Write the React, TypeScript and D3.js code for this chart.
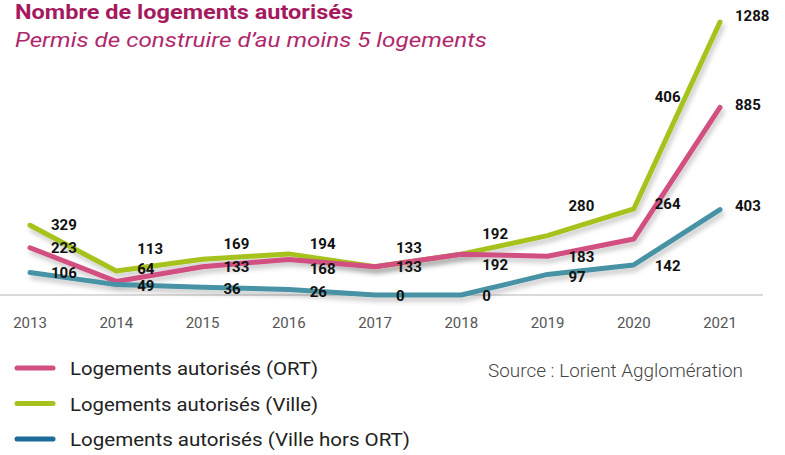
import * as d3 from "d3";
import { useEffect, useRef } from "react";

const years = ["2013", "2014", "2015", "2016", "2017", "2018", "2019", "2020", "2021"];
const ort = [223, 64, 133, 168, 133, 192, 183, 264, 885];
const ville = [329, 113, 169, 194, 133, 192, 280, 406, 1288];
const horsOrt = [106, 49, 36, 26, 0, 0, 97, 142, 403];

// label nudges in px, relative to each point
const villeDy = [-1, -22, -16, -10, -19, -21, -30, -112, -6];
const ortDy = [0, -13, 0, 9, 0, 10, 0, -35, -3];
const horsDy = [0, 1, 1, 2, 1, 1, 2, 1, -4];

const legendNames = [
  "Logements autorisés (ORT)",
  "Logements autorisés (Ville)",
  "Logements autorisés (Ville hors ORT)",
];
const legendWidths = [248, 248, 340];

const FONT = "Roboto, 'DejaVu Sans', sans-serif";

export default function App() {
  const svgRef = useRef<SVGSVGElement>(null);

  useEffect(() => {
    const w = 785;
    const h = 455;
    const svg = d3.select(svgRef.current).attr("width", w).attr("height", h);
    svg.selectAll("*").remove();

    const series = [
      { name: legendNames[1], tl: legendWidths[1], values: ville, dy: villeDy, color: "#a6c21c", legend: "#a6c21c" },
      { name: legendNames[0], tl: legendWidths[0], values: ort, dy: ortDy, color: "#d24f82", legend: "#d24f82" },
      { name: legendNames[2], tl: legendWidths[2], values: horsOrt, dy: horsDy, color: "#4793a5", legend: "#1c6b98" },
    ];

    const x = d3.scalePoint().domain(years).range([30, 720]);
    const y = d3.scaleLinear().domain([0, 1288]).range([295, 22]);

    //shadow
    const defs = svg.append("defs");
    defs
      .append("filter")
      .attr("id", "shadow")
      .attr("x", "-10%")
      .attr("y", "-10%")
      .attr("width", "130%")
      .attr("height", "140%")
      .append("feDropShadow")
      .attr("dx", 2)
      .attr("dy", 4)
      .attr("stdDeviation", 2.5)
      .attr("flood-color", "#000")
      .attr("flood-opacity", 0.22);

    //title
    svg
      .append("text")
      .attr("x", 15)
      .attr("y", 19)
      .attr("fill", "#a5195f")
      .attr("font-family", FONT)
      .attr("font-weight", "bold")
      .attr("font-size", 20)
      .attr("textLength", 338)
      .attr("lengthAdjust", "spacingAndGlyphs")
      .text("Nombre de logements autorisés");
    svg
      .append("text")
      .attr("x", 15)
      .attr("y", 47)
      .attr("fill", "#b0286c")
      .attr("font-family", FONT)
      .attr("font-style", "italic")
      .attr("font-size", 21)
      .attr("textLength", 472)
      .attr("lengthAdjust", "spacingAndGlyphs")
      .text("Permis de construire d’au moins 5 logements");

    //axis baseline
    svg
      .append("line")
      .attr("x1", 0)
      .attr("x2", 763)
      .attr("y1", y(0))
      .attr("y2", y(0))
      .attr("stroke", "#b5b5b5")
      .attr("stroke-width", 1);

    svg
      .append("g")
      .selectAll("text")
      .data(years)
      .join("text")
      .attr("x", (d) => x(d)!)
      .attr("y", 328)
      .attr("text-anchor", "middle")
      .attr("fill", "#555")
      .attr("font-family", FONT)
      .attr("font-size", 15)
      .text((d) => d);

    //lines
    const line = d3
      .line<number>()
      .x((_, i) => x(years[i])!)
      .y((v) => y(v));

    series.forEach((s) => {
      svg
        .append("path")
        .attr("d", line(s.values))
        .attr("fill", "none")
        .attr("stroke", s.color)
        .attr("stroke-width", 5)
        .attr("stroke-linejoin", "round")
        .attr("stroke-linecap", "round")
        .attr("filter", "url(#shadow)");
    });

    //value labels
    series.forEach((s) => {
      svg
        .append("g")
        .selectAll("text")
        .data(s.values)
        .join("text")
        .attr("x", (_, i) => x(years[i])! + (i === years.length - 1 ? 15 : 21))
        .attr("y", (v, i) => y(v) + s.dy[i])
        .attr("dy", "0.36em")
        .attr("fill", "#111")
        .attr("font-family", FONT)
        .attr("font-weight", "bold")
        .attr("font-size", 15)
        .text((v) => v);
    });

    //legend
    const legendOrder = [series[1], series[0], series[2]];
    const lg = svg
      .append("g")
      .selectAll("g")
      .data(legendOrder)
      .join("g")
      .attr("transform", (_, i) => `translate(15, ${368 + i * 35.5})`);
    lg.append("line")
      .attr("x1", 2)
      .attr("x2", 38)
      .attr("stroke", (d) => d.legend)
      .attr("stroke-width", 5)
      .attr("stroke-linecap", "round");
    lg.append("text")
      .attr("x", 55)
      .attr("y", 7)
      .attr("fill", "#222")
      .attr("font-family", FONT)
      .attr("font-size", 19)
      .attr("textLength", (d) => d.tl)
      .attr("lengthAdjust", "spacingAndGlyphs")
      .text((d) => d.name);

    svg
      .append("text")
      .attr("x", 488)
      .attr("y", 377)
      .attr("fill", "#444")
      .attr("font-family", FONT)
      .attr("font-weight", 300)
      .attr("font-size", 18)
      .attr("textLength", 255)
      .attr("lengthAdjust", "spacingAndGlyphs")
      .text("Source : Lorient Agglomération");
  }, []);

  return (
    <div>
      <svg ref={svgRef} style={{ position: "absolute", left: 0, top: 0 }}></svg>
    </div>
  );
}
